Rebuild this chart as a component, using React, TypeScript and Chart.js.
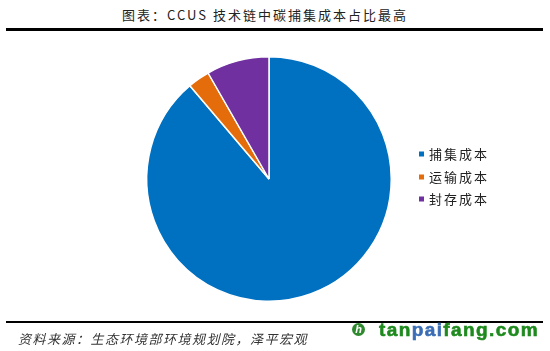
import React, { useEffect, useRef } from "react";
import { Chart, registerables } from "chart.js";

Chart.register(...registerables);

const categories: string[] = ["捕集成本", "运输成本", "封存成本"];
const shares: number[] = [88.8, 2.9, 8.3];
const colors: string[] = ["#0070C0", "#E46C0A", "#7030A0"];
const titleText = "图表：CCUS 技术链中碳捕集成本占比最高";
const sourceText = "资料来源：生态环境部环境规划院，泽平宏观";

const CJK = '"Noto Sans CJK SC", "Noto Sans", sans-serif';

const legendPlugin = {
  id: "fixedLegend",
  afterDraw(chart: any) {
    const ctx = chart.ctx as CanvasRenderingContext2D;
    const labels = chart.data.labels as string[];
    const bg = chart.data.datasets[0].backgroundColor as string[];
    const x0 = 419;
    const ys = [154, 177, 199];
    ctx.save();
    ctx.font = `13px ${CJK}`;
    (ctx as any).letterSpacing = "2px";
    ctx.textBaseline = "middle";
    labels.forEach((lab, i) => {
      const y = ys[i] - 40;
      ctx.fillStyle = bg[i];
      ctx.fillRect(x0, y - 2.5, 5, 5);
      ctx.fillStyle = "#222";
      ctx.fillText(lab, x0 + 10, y + 0.5);
    });
    ctx.restore();
  },
};

export default function App() {
  const ref = useRef<HTMLCanvasElement | null>(null);
  useEffect(() => {
    if (!ref.current) return;
    const chart = new Chart(ref.current, {
      type: "pie",
      data: {
        labels: categories,
        datasets: [
          {
            data: shares,
            backgroundColor: colors,
            borderColor: "#ffffff",
            borderWidth: 1.5,
          },
        ],
      },
      options: {
        animation: false,
        responsive: false,
        maintainAspectRatio: false,
        layout: { padding: { left: 146, top: 16, right: 158, bottom: 18 } },
        plugins: {
          legend: { display: false },
          tooltip: { enabled: false },
        },
      },
      plugins: [legendPlugin],
    });
    return () => chart.destroy();
  }, []);

  return (
    <div
      style={{
        position: "fixed",
        left: 0,
        top: 0,
        width: 550,
        height: 351,
        background: "#fff",
        overflow: "hidden",
      }}
    >
      <div
        style={{
          position: "absolute",
          left: 0,
          width: 530,
          top: 5,
          textAlign: "center",
          font: `13px ${CJK}`,
          letterSpacing: "2px",
          color: "#222",
          lineHeight: "20px",
        }}
      >
        {titleText}
      </div>
      <div
        style={{
          position: "absolute",
          left: 6,
          width: 537,
          top: 28,
          height: 3,
          background: "#000",
        }}
      />
      <canvas
        ref={ref}
        width={550}
        height={280}
        style={{ position: "absolute", left: 0, top: 40, width: 550, height: 280 }}
      />
      <div
        style={{
          position: "absolute",
          left: 6,
          width: 537,
          top: 321,
          height: 2,
          background: "#000",
        }}
      />
      <div
        style={{
          position: "absolute",
          left: 18,
          top: 330,
          font: `italic 13px ${CJK}`,
          letterSpacing: "1.5px",
          color: "#333",
          lineHeight: "18px",
          whiteSpace: "nowrap",
        }}
      >
        {sourceText}
      </div>
      <div
        style={{
          position: "absolute",
          left: 352,
          top: 323,
          width: 13,
          height: 13,
          borderRadius: "50%",
          background: "#2f8a2f",
          color: "#fff",
          font: "bold italic 11px 'Liberation Sans', sans-serif",
          textAlign: "center",
          lineHeight: "13px",
        }}
      >
        h
      </div>
      <div
        style={{
          position: "absolute",
          left: 379,
          top: 319,
          font: "bold 19px 'Liberation Sans', sans-serif",
          lineHeight: "22px",
          color: "#1e8a1e",
          whiteSpace: "nowrap",
          letterSpacing: "1.4px",
          WebkitTextStroke: "0.6px currentColor",
        }}
      >
        tan<span style={{ color: "#3a6db5" }}>pai</span>fang.com
      </div>
    </div>
  );
}
